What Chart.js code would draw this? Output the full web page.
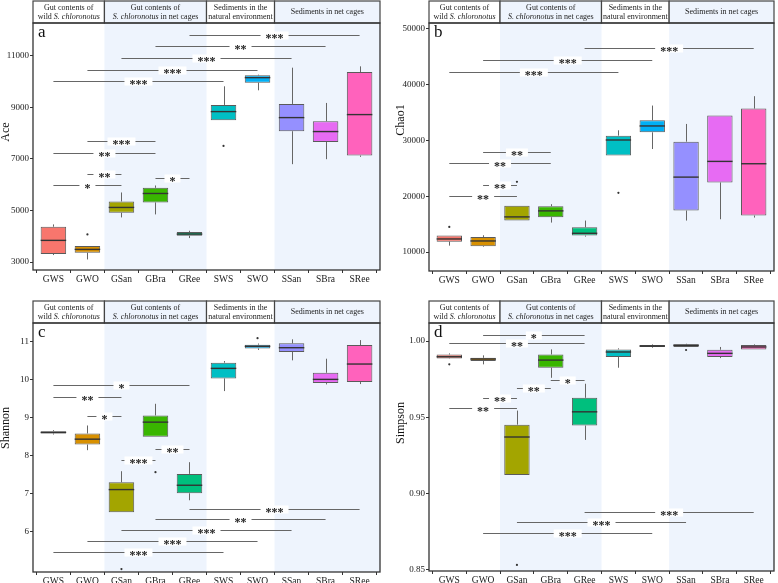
<!DOCTYPE html>
<html>
<head>
<meta charset="utf-8">
<script src="https://cdn.jsdelivr.net/npm/chart.js@4.4.1/dist/chart.umd.min.js"></script>
<style>
  body { margin: 0; background: #fff; }
  #wrap { position: relative; width: 778px; height: 583px; overflow: hidden; }
  .panel { position: absolute; }
</style>
</head>
<body>
<div id="wrap">
  <div class="panel" style="left:0;top:0;width:388px;height:288px"><canvas id="chartA"></canvas></div>
  <div class="panel" style="left:388px;top:0;width:390px;height:288px"><canvas id="chartB"></canvas></div>
  <div class="panel" style="left:0;top:288px;width:388px;height:295px"><canvas id="chartC"></canvas></div>
  <div class="panel" style="left:388px;top:288px;width:390px;height:295px"><canvas id="chartD"></canvas></div>
</div>
<script>
// setup
const groups = ['GWS', 'GWO', 'GSan', 'GBra', 'GRee', 'SWS', 'SWO', 'SSan', 'SBra', 'SRee'];
const boxColors = ['#F8766D', '#D89000', '#A3A500', '#39B600', '#00BF7D',
                   '#00BFC4', '#00B0F6', '#9590FF', '#E76BF3', '#FF62BC'];

// Ace
const aceLow  = [3270, 3100, 4731, 4848, 3930, 8504, 9667, 6799, 6992, 7083];
const aceQ1   = [3310, 3360, 4912, 5313, 4021, 8504, 9964, 8078, 7664, 7134];
const aceMed  = [3840, 3490, 5119, 5661, 4085, 8840, 10158, 8607, 8065, 8724];
const aceQ3   = [4370, 3620, 5351, 5881, 4163, 9098, 10248, 9137, 8465, 10377];
const aceHigh = [4460, 3620, 5700, 5972, 4214, 9822, 10274, 10545, 9176, 10597];
const aceOut  = [{x: 1, y: 4070}, {x: 5, y: 7509}];
const aceSig  = [[4, 9, 11811, '***'], [3, 8, 11385, '**'], [2, 7, 10933, '***'], [1, 6, 10468, '***'],
                 [0, 5, 10041, '***'], [1, 3, 7703, '***'], [0, 3, 7238, '**'], [1, 2, 6411, '**'],
                 [0, 2, 5972, '*'], [3, 4, 6269, '*']];
const aceTicks = [3000, 5000, 7000, 9000, 11000];

// Chao1
const chaoLow  = [11139, 10900, 15637, 15277, 12759, 27331, 28471, 15637, 15877, 16177];
const chaoQ1   = [11859, 11019, 15637, 16237, 12939, 27331, 31469, 17436, 22474, 16537];
const chaoMed  = [12339, 11979, 16297, 17376, 13358, 30090, 32609, 23433, 26252, 25832];
const chaoQ3   = [12939, 12699, 18276, 18216, 14438, 30869, 33628, 29790, 34468, 35727];
const chaoHigh = [12939, 12999, 18276, 18576, 15637, 31829, 36267, 32969, 34468, 37946];
const chaoOut  = [{x: 0, y: 14498}, {x: 2, y: 22594}, {x: 5, y: 20615}];
const chaoSig  = [[4, 9, 46522, '***'], [1, 6, 44423, '***'], [0, 5, 42324, '***'], [1, 3, 27991, '**'],
                  [0, 3, 25952, '**'], [1, 2, 21994, '**'], [0, 2, 20075, '**']];
const chaoTicks = [10000, 20000, 30000, 40000, 50000];

// Shannon
const shanLow  = [8.566, 8.153, 6.518, 8.504, 6.835, 9.708, 10.79, 10.517, 9.884, 9.893];
const shanQ1   = [8.592, 8.302, 6.518, 8.504, 7.019, 10.042, 10.83, 10.736, 9.919, 9.946];
const shanMed  = [8.619, 8.443, 7.116, 8.891, 7.230, 10.306, 10.886, 10.85, 10.016, 10.42];
const shanQ3   = [8.654, 8.592, 7.309, 9.067, 7.529, 10.455, 10.93, 10.965, 10.19, 10.92];
const shanHigh = [8.68, 8.803, 7.599, 9.374, 7.837, 10.499, 10.96, 11.07, 10.56, 11.05];
const shanOut  = [{x: 2, y: 5.025}, {x: 3, y: 7.573}, {x: 6, y: 11.10}];
const shanSig  = [[0, 4, 9.858, '*'], [0, 2, 9.559, '**'], [1, 2, 9.058, '*'], [2, 3, 7.889, '***'],
                  [3, 4, 8.188, '**'], [4, 9, 6.598, '***'], [3, 8, 6.343, '**'], [2, 7, 6.053, '***'],
                  [1, 6, 5.772, '***'], [0, 5, 5.473, '***']];
const shanTicks = [6, 7, 8, 9, 10, 11];

// Simpson
const simpLow  = [0.9884, 0.9847, 0.9122, 0.9759, 0.9352, 0.9825, 0.9956, 0.9961, 0.9888, 0.9945];
const simpQ1   = [0.9886, 0.9869, 0.9122, 0.9825, 0.9446, 0.9895, 0.9961, 0.9961, 0.9895, 0.9945];
const simpMed  = [0.9897, 0.9882, 0.9371, 0.9875, 0.9536, 0.9928, 0.9967, 0.9972, 0.9919, 0.9961];
const simpQ3   = [0.9912, 0.9890, 0.9452, 0.9912, 0.9628, 0.9945, 0.9974, 0.9978, 0.9943, 0.9974];
const simpHigh = [0.9919, 0.9906, 0.9544, 0.9945, 0.9720, 0.9952, 0.9978, 0.9982, 0.9961, 0.9978];
const simpOut  = [{x: 0, y: 0.9847}, {x: 2, y: 0.8533}, {x: 7, y: 0.9941}];
const simpSig  = [[1, 4, 1.0042, '*'], [0, 4, 0.9985, '**'], [3, 4, 0.9742, '*'], [2, 3, 0.9689, '**'],
                  [1, 2, 0.9625, '**'], [0, 2, 0.956, '**'], [4, 9, 0.8879, '***'], [2, 7, 0.8811, '***'],
                  [1, 6, 0.8745, '***']];
const simpTicks = [0.85, 0.90, 0.95, 1.00];

const SERIF = '"Liberation Serif", "DejaVu Serif", serif';
const shade = '#EEF4FD';
const sections = [[-0.6, 1.5], [1.5, 4.5], [4.5, 6.5], [6.5, 9.6]];
const headers = [
  [[['Gut contents of', false]], [['wild ', false], ['S. chloronotus', true]]],
  [[['Gut contents of', false]], [['S. chloronotus', true], [' in net cages', false]]],
  [[['Sediments in the', false]], [['natural environment', false]]],
  [[['Sediments in net cages', false]]]
];

function drawRich(ctx, segs, cx, cy, size) {
  let total = 0;
  const widths = segs.map(([t, it]) => {
    ctx.font = (it ? 'italic ' : '') + size + 'px ' + SERIF;
    const w = ctx.measureText(t).width;
    total += w;
    return w;
  });
  let xx = cx - total / 2;
  segs.forEach(([t, it], i) => {
    ctx.font = (it ? 'italic ' : '') + size + 'px ' + SERIF;
    ctx.fillText(t, xx, cy);
    xx += widths[i];
  });
}

// box extras: shading, whiskers, medians, brackets, headers
function decor(p) {
  return {
    id: 'decor',
    beforeDatasetsDraw(chart) {
      const {ctx, chartArea: a, scales: {x, y}} = chart;
      ctx.save();
      ctx.fillStyle = shade;
      [sections[1], sections[3]].forEach(([s, e]) => {
        const x0 = x.getPixelForValue(s), x1 = x.getPixelForValue(e);
        ctx.fillRect(x0, a.top, x1 - x0, a.bottom - a.top);
      });
      ctx.strokeStyle = '#666';
      ctx.lineWidth = 1;
      groups.forEach((g, i) => {
        const xp = Math.round(x.getPixelForValue(i)) + 0.5;
        ctx.beginPath();
        ctx.moveTo(xp, y.getPixelForValue(p.low[i]));
        ctx.lineTo(xp, y.getPixelForValue(p.q1[i]));
        ctx.moveTo(xp, y.getPixelForValue(p.q3[i]));
        ctx.lineTo(xp, y.getPixelForValue(p.high[i]));
        ctx.stroke();
      });
      ctx.restore();
    },
    afterDatasetsDraw(chart) {
      const {ctx, chartArea: a, scales: {x, y}} = chart;
      const bars = chart.getDatasetMeta(0).data;
      ctx.save();
      ctx.strokeStyle = '#333';
      ctx.lineWidth = 1.4;
      groups.forEach((g, i) => {
        const b = bars[i];
        const yp = y.getPixelForValue(p.med[i]);
        ctx.beginPath();
        ctx.moveTo(b.x - b.width / 2, yp);
        ctx.lineTo(b.x + b.width / 2, yp);
        ctx.stroke();
      });
      // significance brackets
      p.sig.forEach(([from, to, v, lab]) => {
        const x0 = x.getPixelForValue(from), x1 = x.getPixelForValue(to);
        const yp = Math.round(y.getPixelForValue(v)) + 0.5;
        ctx.strokeStyle = '#666';
        ctx.lineWidth = 1;
        ctx.beginPath();
        ctx.moveTo(x0, yp);
        ctx.lineTo(x1, yp);
        ctx.stroke();
        ctx.font = 'bold 12px ' + SERIF;
        const tw = ctx.measureText(lab).width;
        const cx = (x0 + x1) / 2;
        ctx.fillStyle = '#fff';
        ctx.fillRect(cx - tw / 2 - 5, yp - 4, tw + 10, 8);
        ctx.fillStyle = '#222';
        ctx.textAlign = 'center';
        ctx.textBaseline = 'alphabetic';
        ctx.fillText(lab, cx, yp + 6.5);
      });
      ctx.restore();
    },
    afterDraw(chart) {
      const {ctx, chartArea: a, scales: {x}} = chart;
      ctx.save();
      // headers
      const ht = a.top - 22;
      sections.forEach(([s, e], k) => {
        const x0 = x.getPixelForValue(s), x1 = x.getPixelForValue(e);
        ctx.fillStyle = (k % 2) ? shade : '#fff';
        ctx.fillRect(x0, ht, x1 - x0, 22);
        ctx.strokeStyle = '#444';
        ctx.lineWidth = 1.2;
        ctx.strokeRect(x0, ht, x1 - x0, 22);
        ctx.fillStyle = '#222';
        ctx.textAlign = 'left';
        ctx.textBaseline = 'middle';
        const lines = headers[k];
        const cx = (x0 + x1) / 2;
        if (lines.length === 1) {
          drawRich(ctx, lines[0], cx, ht + 11, 8);
        } else {
          drawRich(ctx, lines[0], cx, ht + 6.5, 8);
          drawRich(ctx, lines[1], cx, ht + 15.5, 8);
        }
      });
      // plot frame
      ctx.strokeStyle = '#333';
      ctx.lineWidth = 1.3;
      ctx.strokeRect(a.left, a.top, a.right - a.left, a.bottom - a.top);
      // panel letter
      ctx.fillStyle = '#111';
      ctx.textAlign = 'left';
      ctx.textBaseline = 'alphabetic';
      ctx.font = '17px ' + SERIF;
      ctx.fillText(p.letter, a.left + 5, a.top + 14);
      // axis title
      ctx.translate(p.titleX, p.titleY);
      ctx.rotate(-Math.PI / 2);
      ctx.textAlign = 'center';
      ctx.textBaseline = 'middle';
      ctx.font = '12px ' + SERIF;
      ctx.fillText(p.title, 0, 0);
      ctx.restore();
    }
  };
}

function makePanel(id, p) {
  const config = {
    type: 'bar',
    data: {
      datasets: [{
        data: groups.map((g, i) => ({x: i, y: [p.q1[i], p.q3[i]]})),
        backgroundColor: boxColors,
        borderColor: '#5a5a5a',
        borderWidth: 1,
        borderSkipped: false,
        categoryPercentage: 1,
        barPercentage: 0.75
      }, {
        type: 'scatter',
        data: p.out,
        pointRadius: 1.1,
        pointBorderWidth: 0,
        backgroundColor: '#333'
      }]
    },
    options: {
      responsive: true,
      maintainAspectRatio: false,
      animation: false,
      layout: {padding: {top: p.padTop, right: p.padRight, left: 0, bottom: 0}},
      plugins: {legend: {display: false}, tooltip: {enabled: false}},
      scales: {
        x: {
          type: 'linear',
          min: -0.6,
          max: 9.6,
          offset: false,
          afterBuildTicks: ax => { ax.ticks = groups.map((g, i) => ({value: i})); },
          afterFit: ax => { ax.height = p.xHeight; },
          ticks: {
            callback: v => groups[v],
            font: {family: SERIF, size: 9.5},
            color: '#1a1a1a',
            padding: 1,
            maxRotation: 0,
            autoSkip: false
          },
          grid: {drawOnChartArea: false, tickLength: 3, color: '#333'},
          border: {display: false}
        },
        y: {
          type: 'linear',
          min: p.yMin,
          max: p.yMax,
          afterBuildTicks: ax => { ax.ticks = p.ticks.map(v => ({value: v})); },
          afterFit: ax => { ax.width = p.yWidth; },
          ticks: {
            callback: v => p.fmt(v),
            font: {family: SERIF, size: 9},
            color: '#1a1a1a',
            padding: 1
          },
          grid: {drawOnChartArea: false, tickLength: 3, color: '#333'},
          border: {display: false}
        }
      }
    },
    plugins: [decor(p)]
  };
  return new Chart(document.getElementById(id), config);
}

// render init block
const chartA = makePanel('chartA', {
  low: aceLow, q1: aceQ1, med: aceMed, q3: aceQ3, high: aceHigh, out: aceOut, sig: aceSig,
  ticks: aceTicks, fmt: v => String(v), yMin: 2690, yMax: 12280,
  padTop: 23, padRight: 8, yWidth: 33, xHeight: 18,
  letter: 'a', title: 'Ace', titleX: 6, titleY: 132
});
const chartB = makePanel('chartB', {
  low: chaoLow, q1: chaoQ1, med: chaoMed, q3: chaoQ3, high: chaoHigh, out: chaoOut, sig: chaoSig,
  ticks: chaoTicks, fmt: v => String(v), yMin: 6592, yMax: 51076,
  padTop: 23, padRight: 1, yWidth: 41, xHeight: 17,
  letter: 'b', title: 'Chao1', titleX: 13, titleY: 120
});
const chartC = makePanel('chartC', {
  low: shanLow, q1: shanQ1, med: shanMed, q3: shanQ3, high: shanHigh, out: shanOut, sig: shanSig,
  ticks: shanTicks, fmt: v => String(v), yMin: 4.947, yMax: 11.5,
  padTop: 35, padRight: 8, yWidth: 33, xHeight: 11,
  letter: 'c', title: 'Shannon', titleX: 6, titleY: 140
});
const chartD = makePanel('chartD', {
  low: simpLow, q1: simpQ1, med: simpMed, q3: simpQ3, high: simpHigh, out: simpOut, sig: simpSig,
  ticks: simpTicks, fmt: v => v.toFixed(2), yMin: 0.8493, yMax: 1.0118,
  padTop: 35, padRight: 1, yWidth: 41, xHeight: 12,
  letter: 'd', title: 'Simpson', titleX: 13, titleY: 135
});
</script>
</body>
</html>
